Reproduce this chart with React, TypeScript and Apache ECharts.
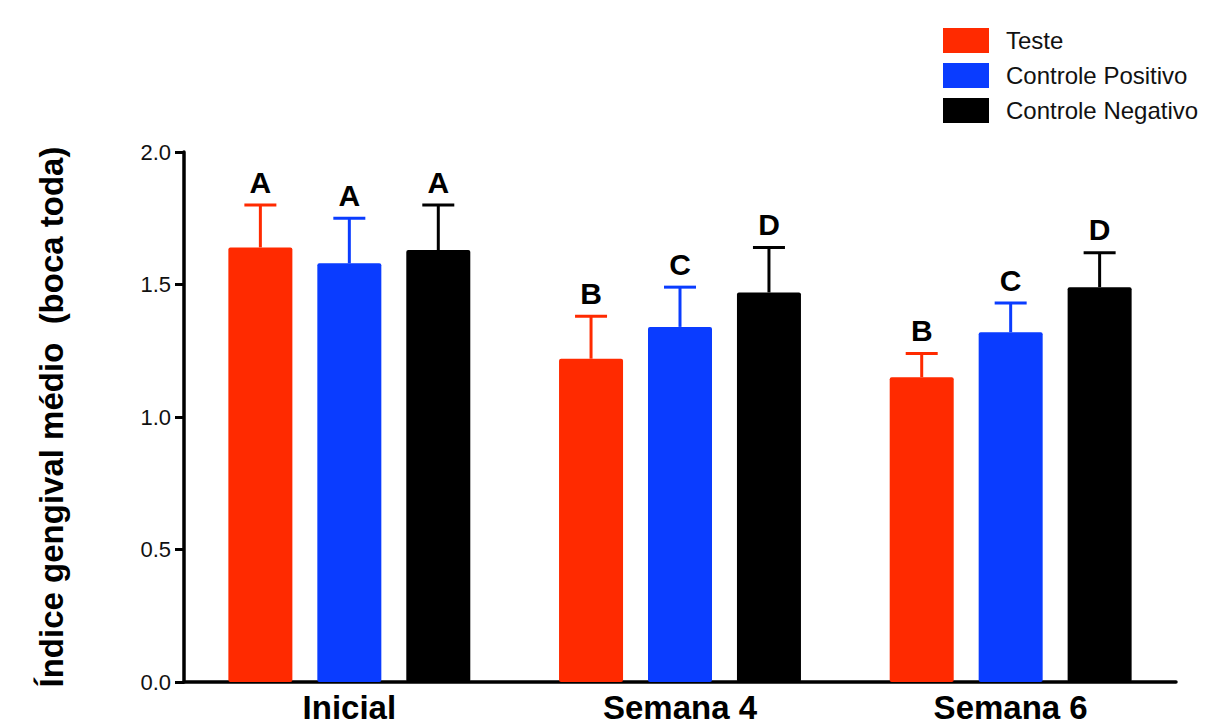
import React, { useEffect, useRef } from "react";
import * as echarts from "echarts";

const categories = ["Inicial", "Semana 4", "Semana 6"];
const seriesNames = ["Teste", "Controle Positivo", "Controle Negativo"];
const seriesColors = ["#FF2A00", "#0A3CFF", "#000000"];
const teste = [1.64, 1.22, 1.15];
const positivo = [1.58, 1.34, 1.32];
const negativo = [1.63, 1.47, 1.49];
const testeUpper = [1.8, 1.38, 1.24];
const positivoUpper = [1.75, 1.49, 1.43];
const negativoUpper = [1.8, 1.64, 1.62];
const testeLetters = ["A", "B", "B"];
const positivoLetters = ["A", "C", "C"];
const negativoLetters = ["A", "D", "D"];
const yTicks = [0, 0.5, 1.0, 1.5, 2.0];

const means = [teste, positivo, negativo];
const uppers = [testeUpper, positivoUpper, negativoUpper];
const letters = [testeLetters, positivoLetters, negativoLetters];

const BAR_W = 64;
const BAR_GAP = 0.39;
const FONT = '"Liberation Sans", Arial, Helvetica, sans-serif';

export default function App() {
  const ref = useRef<HTMLDivElement>(null);
  useEffect(() => {
    if (!ref.current) return;
    const chart = echarts.init(ref.current, undefined, { renderer: "svg" });

    const barSeries = seriesNames.map((name, s) => ({
      type: "bar",
      name,
      data: means[s],
      barWidth: BAR_W,
      barGap: `${BAR_GAP * 100}%`,
      itemStyle: { color: seriesColors[s], borderRadius: 2 },
      z: 2,
    }));

    const errSeries = seriesNames.map((name, s) => ({
      type: "custom",
      name: name + " erro",
      data: categories.map((_, i) => [i, means[s][i], uppers[s][i]]),
      z: 3,
      renderItem: (params: any, api: any) => {
        const ci = api.value(0);
        const mean = api.value(1);
        const up = api.value(2);
        const off = (s - 1) * BAR_W * (1 + BAR_GAP);
        const top = api.coord([ci, up]);
        const base = api.coord([ci, mean]);
        const x = top[0] + off;
        const c = seriesColors[s];
        return {
          type: "group",
          children: [
            { type: "line", shape: { x1: x, y1: base[1], x2: x, y2: top[1] }, style: { stroke: c, lineWidth: 3 } },
            { type: "line", shape: { x1: x - 16, y1: top[1], x2: x + 16, y2: top[1] }, style: { stroke: c, lineWidth: 3 } },
            {
              type: "text",
              x,
              y: top[1] - 8,
              style: {
                text: letters[s][params.dataIndex],
                fill: "#000",
                font: `bold 30px ${FONT}`,
                align: "center",
                verticalAlign: "bottom",
              },
            },
          ],
        };
      },
    }));

    chart.setOption({
      animation: false,
      backgroundColor: "#ffffff",
      legend: {
        data: seriesNames,
        orient: "vertical",
        left: 943,
        top: 28,
        padding: 0,
        itemWidth: 46,
        itemHeight: 25,
        itemGap: 10,
        icon: "rect",
        selectedMode: false,
        textStyle: { fontSize: 24, fontFamily: FONT, color: "#111", padding: [0, 0, 0, 12] },
      },
      grid: { left: 184, right: 44, top: 152, bottom: 46, containLabel: false },
      xAxis: {
        type: "category",
        data: categories,
        axisLine: { lineStyle: { color: "#000", width: 3.5 } },
        axisTick: { alignWithLabel: true, length: 10, lineStyle: { color: "#000", width: 3 } },
        axisLabel: { fontSize: 33, fontWeight: "bold", fontFamily: FONT, color: "#000", margin: 7, lineHeight: 36 },
      },
      yAxis: {
        type: "value",
        min: 0,
        max: 2,
        interval: 0.5,
        name: "Índice gengival médio  (boca toda)",
        nameLocation: "middle",
        nameGap: 116,
        nameTextStyle: { fontSize: 33, fontWeight: "bold", fontFamily: FONT, color: "#000" },
        axisLine: { show: true, lineStyle: { color: "#000", width: 3.5 } },
        axisTick: { show: true, length: 9, lineStyle: { color: "#000", width: 3 } },
        axisLabel: {
          fontSize: 22,
          fontFamily: FONT,
          color: "#111",
          margin: 13,
          formatter: (v: number) => (yTicks.includes(v) ? v.toFixed(1) : ""),
        },
        splitLine: { show: false },
      },
      series: [...barSeries, ...errSeries],
    });
    return () => chart.dispose();
  }, []);
  return <div ref={ref} style={{ position: "fixed", left: 0, top: 0, width: 1220, height: 728 }} />;
}
